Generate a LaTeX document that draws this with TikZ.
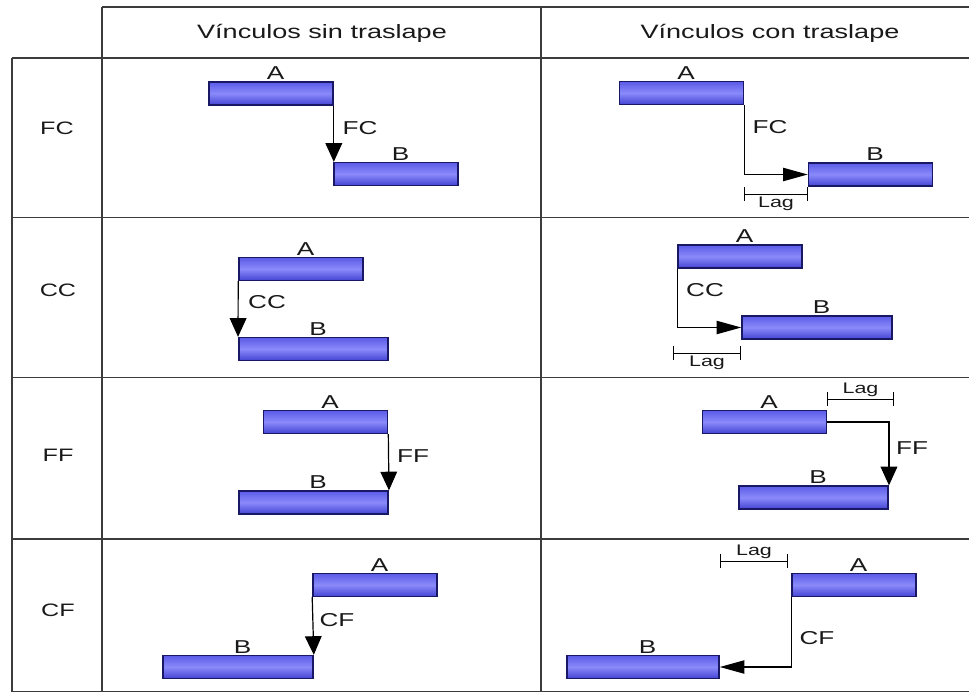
\documentclass[tikz,border=0pt]{standalone}
\usepackage{fontspec}
\setmainfont[FakeStretch=1.4]{Liberation Sans}
\usetikzlibrary{arrows.meta}
\definecolor{barline}{RGB}{24,24,100}
\definecolor{bartop}{RGB}{92,92,232}
\definecolor{barmid}{RGB}{138,138,250}
\definecolor{barbot}{RGB}{68,68,212}
\definecolor{gridline}{RGB}{60,60,60}
\definecolor{ink}{RGB}{25,25,25}
\begin{document}
\begin{tikzpicture}[x=0.75pt, y=-0.75pt,
	bar/.style={draw=barline, line width=1.2pt, top color=bartop, bottom color=barbot, middle color=barmid, inner sep=0pt, minimum height=17pt, minimum width=#1},
	bar/.default=93pt,
	every label/.style={text=ink, font=\fontsize{14}{16}\selectfont, inner sep=0pt, xshift=3.5pt},
	label distance=1pt,
	grid/.style={draw=gridline, line width=1.3pt},
	hd/.style={text=ink, font=\fontsize{14.5}{17}\selectfont},
	rowlbl/.style={text=ink, font=\fontsize{13.5}{16}\selectfont},
	lnk/.style={text=ink, font=\fontsize{14}{16}\selectfont, inner sep=0pt},
	vlink/.style={draw=black, line width=0.9pt, -{Triangle[length=14pt, width=12.5pt]}},
	hlink/.style={draw=black, line width=0.9pt, -{Triangle[length=18.5pt, width=10pt]}},
	lagdim/.style={draw=black, line width=0.7pt, {Bar[width=10pt]}-{Bar[width=10pt]}},
	lagtxt/.style={text=ink, font=\fontsize{11.5}{13}\selectfont, inner sep=1.5pt}]
	\useasboundingbox (0,0) rectangle (969,693);
	\fill[white] (0,0) rectangle (969,693);
		\draw[grid] (102,7) -- (969,7);
		\foreach \y in {58,217.5,377.5,539,691.5}
			\draw[grid] (12,\y) -- (969,\y);
		\draw[grid] (12,58) -- (12,691.5);
		\draw[grid] (102,7) -- (102,691.5);
		\draw[grid] (541,7) -- (541,691.5);
		\node[hd] (hsin) at (322,33) {Vínculos sin traslape};
		\node[hd] (hcon) at (770,33) {Vínculos con traslape};
		\node[rowlbl] (rFC) at (57,128) {FC};
		\node[rowlbl] (rCC) at (58,290) {CC};
		\node[rowlbl] (rFF) at (58,455) {FF};
		\node[rowlbl] (rCF) at (58,610) {CF};
			\node[bar, label=above:A] (fcsA) at (271,93.5) {};
			\node[bar, label=above:B] (fcsB) at (396,174) {};
			\draw[vlink] (fcsA.south east) -- (fcsA.south east |- fcsB.north);
			\node[lnk] (fcsL) at (360,128) {FC};
			\node[bar, label=above:A] (fccA) at (681.5,93) {};
			\node[bar, label=above:B] (fccB) at (870.5,174.5) {};
			\draw[hlink] (fccA.south east) |- (fccB.west);
			\node[lnk] (fccL) at (770,127) {FC};
			\coordinate (fccG1) at (744,194);
			\coordinate (fccG2) at (808,194);
			\draw[lagdim] (fccG1) -- node[lagtxt, below] (fccLag) {Lag} (fccG2);
			\node[bar, label=above:A] (ccsA) at (301,269) {};
			\node[bar=112pt, label=above:B] (ccsB) at (313.5,349) {};
			\draw[vlink] (ccsA.south west) -- (ccsB.north west);
			\node[lnk] (ccsL) at (267,302) {CC};
			\node[bar, label=above:A] (cccA) at (740,256.5) {};
			\node[bar=112.5pt, label=above:B] (cccB) at (817,327.5) {};
			\draw[hlink] (cccA.south west) |- (cccB.west);
			\node[lnk] (cccL) at (705,290) {CC};
			\coordinate (cccG1) at (673,353);
			\coordinate (cccG2) at (741,353);
			\draw[lagdim] (cccG1) -- node[lagtxt, below] (cccLag) {Lag} (cccG2);
			\node[bar, label=above:A] (ffsA) at (325.5,422) {};
			\node[bar=112pt, label=above:B] (ffsB) at (313.5,502.5) {};
			\draw[vlink] (ffsA.south east) -- (ffsB.north east);
			\node[lnk] (ffsL) at (413,456) {FF};
			\node[bar, label=above:A] (ffcA) at (764.5,422) {};
			\node[bar=112pt, label=above:B] (ffcB) at (813.5,497.5) {};
			\draw[vlink] (ffcA.east) -| (ffcB.north east);
			\node[lnk] (ffcL) at (912,448) {FF};
			\coordinate (ffcG1) at (827,399);
			\coordinate (ffcG2) at (894,399);
			\draw[lagdim] (ffcG1) -- node[lagtxt, above] (ffcLag) {Lag} (ffcG2);
			\node[bar, label=above:A] (cfsA) at (375,585) {};
			\node[bar=112.5pt, label=above:B] (cfsB) at (238,667) {};
			\draw[vlink] (cfsA.south west) -- (cfsB.north east);
			\node[lnk] (cfsL) at (337,620) {CF};
			\node[bar, label=above:A] (cfcA) at (854,585) {};
			\node[bar=114pt, label=above:B] (cfcB) at (643,667) {};
			\draw[hlink] (cfcA.south west) |- (cfcB.east);
			\node[lnk] (cfcL) at (817,638) {CF};
			\coordinate (cfcG1) at (720,561);
			\coordinate (cfcG2) at (788,561);
			\draw[lagdim] (cfcG1) -- node[lagtxt, above] (cfcLag) {Lag} (cfcG2);
\end{tikzpicture}
\end{document}
